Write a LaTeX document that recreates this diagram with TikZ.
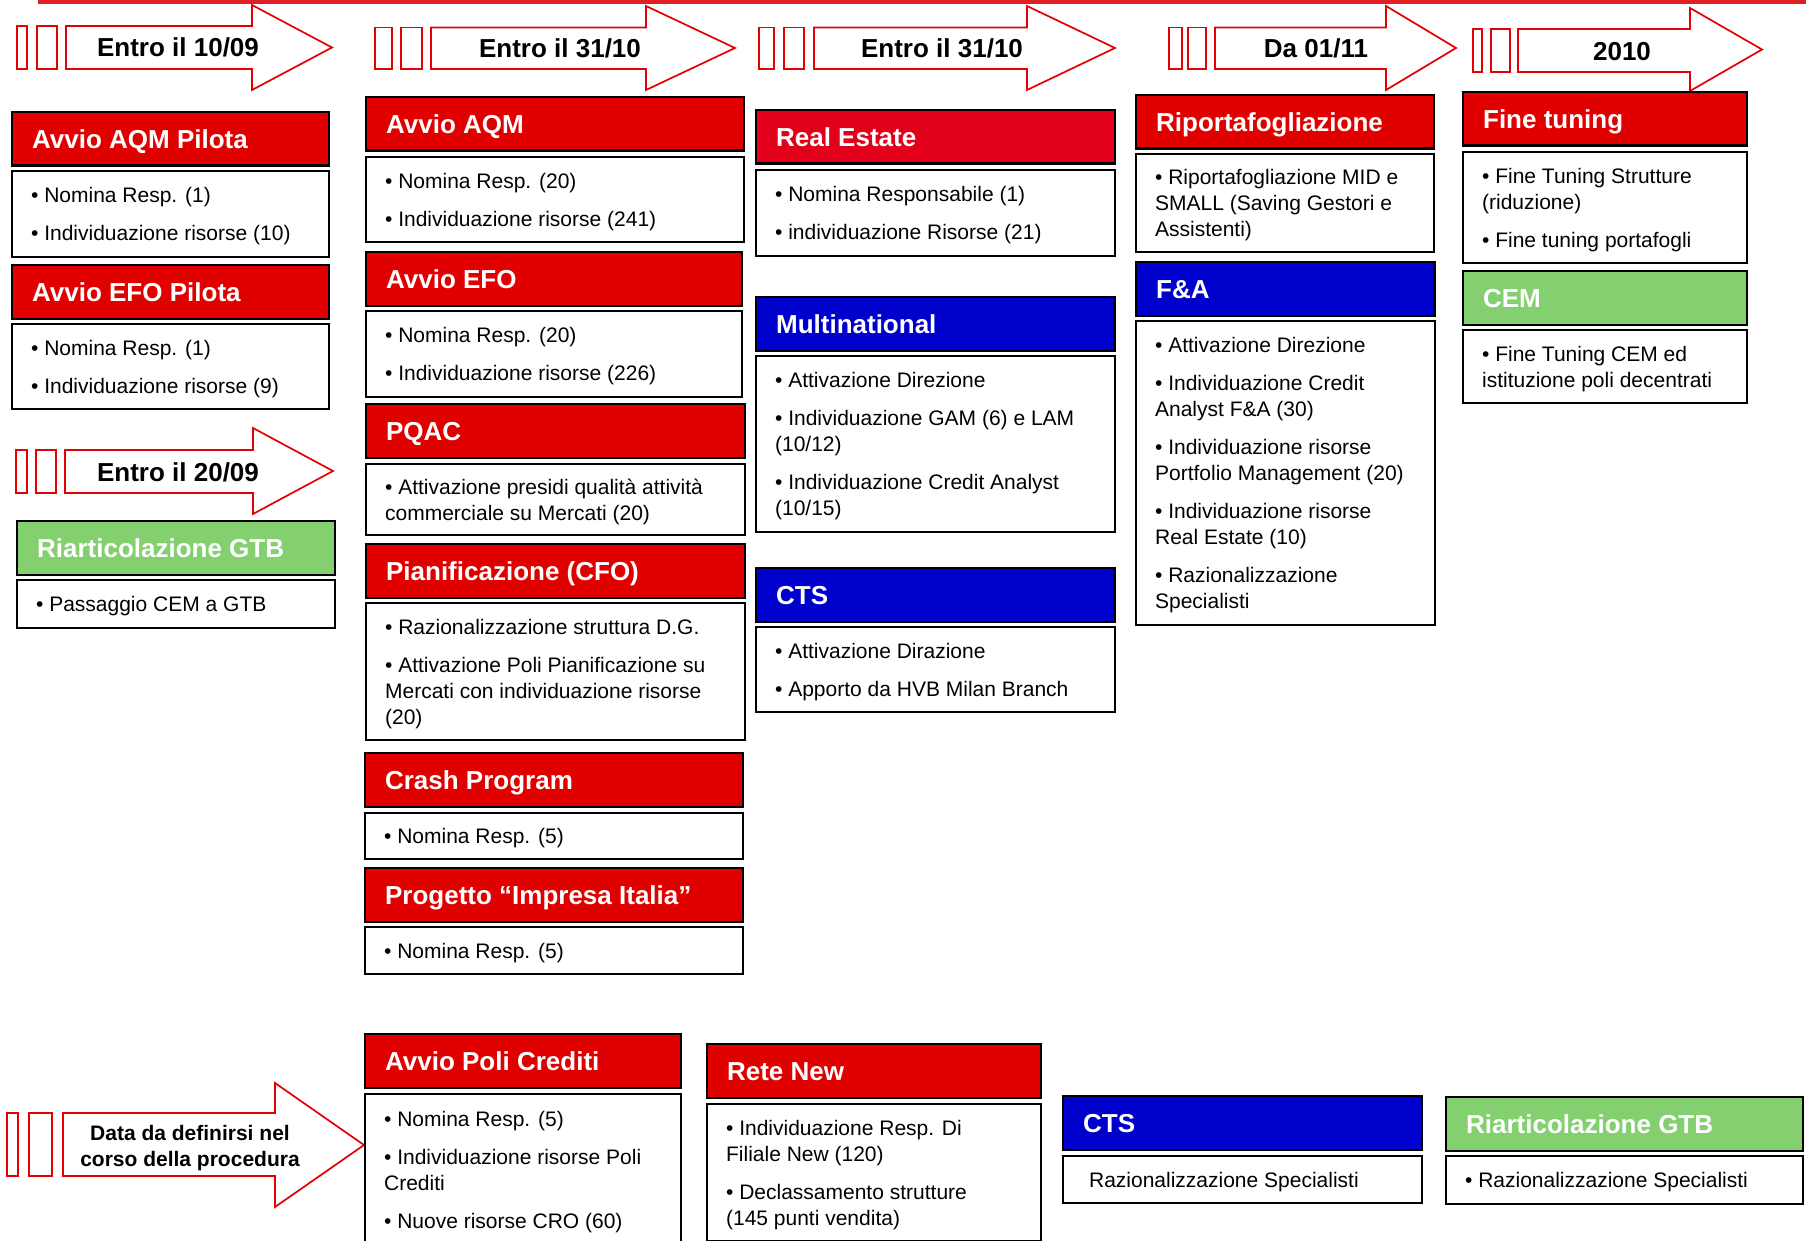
\documentclass[tikz,border=0pt]{standalone}
\usepackage{fontspec}
\setmainfont{Liberation Sans}

\definecolor{hdrred}{RGB}{224,0,0}
\definecolor{estred}{RGB}{226,0,26}
\definecolor{hdrblue}{RGB}{0,0,204}
\definecolor{hdrgreen}{RGB}{132,208,112}
\definecolor{arrred}{RGB}{228,0,0}
\definecolor{linered}{RGB}{224,30,36}

% one text line of a body box: fixed height/depth so lines stack evenly
\newcommand\linestrut{\rule[-5.5pt]{0pt}{26pt}}
\newcommand\bpt[1]{\linestrut\mbox{\textbullet\ #1}}
\newcommand\cpt[1]{\linestrut\mbox{#1}}

\tikzset{
  hdr/.style={draw=black, line width=2.2pt, text=white,
    font=\fontsize{26}{30}\selectfont\bfseries,
    minimum height=53.5, inner xsep=20, inner ysep=0,
    text height=18.6pt, text depth=0pt, anchor=north west},
  bodybox/.style={draw=black, line width=2.2pt, fill=white,
    font=\fontsize{21}{26}\selectfont,
    inner xsep=19, inner ysep=0, anchor=north west},
  arrowline/.style={draw=arrred, line width=1.7pt, line join=miter},
  datelabel/.style={font=\fontsize{26}{30}\selectfont\bfseries,
    text height=18.6pt, text depth=0pt, inner sep=0},
}

% coloured title bar plus bulleted body box
% #1 name, #2 left, #3 width, #4 title top, #5 body top, #6 body bottom,
% #7 title colour, #8 title, #9 body lines
\newcommand\blk[9]{%
  \node[hdr, fill=#7, minimum width=#3] (#1-h) at (#2,#4)
    {\makebox[\dimexpr#3pt-40pt\relax][l]{#8}};
  \node[bodybox, minimum width=#3, minimum height=#6-#5] (#1-b) at (#2,#5)
    {\parbox{\dimexpr#3pt-38pt\relax}{\raggedright#9}};
}

% vertical extents of the next milestone arrow: shaft top/bottom, head top/bottom
\newcommand\arrowrows[4]{\def\arwST{#1}\def\arwSB{#2}\def\arwHT{#3}\def\arwHB{#4}}
% milestone arrow: two small bars, then the block arrow
\newcommand\datearrow[7]{%
  \draw[arrowline] (#1,\arwST) rectangle (#2,\arwSB);
  \draw[arrowline] (#3,\arwST) rectangle (#4,\arwSB);
  \draw[arrowline] (#5,\arwST) -- (#6,\arwST) -- (#6,\arwHT)
    -- (#7,{(\arwHT+\arwHB)/2}) -- (#6,\arwHB) -- (#6,\arwSB) -- (#5,\arwSB) -- cycle;
}

\begin{document}
\begin{tikzpicture}[x=1pt, y=-1pt]
\useasboundingbox (0,0) rectangle (1806,1241);
\fill[white] (0,0) rectangle (1806,1241);

% red rule along the top
\fill[linered] (38,0) rectangle (1806,4.5);

% ---------- milestone arrows ----------
\arrowrows{26}{69}{5}{90}
\datearrow{17}{27}{37}{57}{66}{252}{332}
\node[datelabel] (d1) at (178,47.5) {Entro il 10/09};

\arrowrows{27.5}{69}{6}{90}
\datearrow{375}{392}{401}{422}{431}{646}{735}
\node[datelabel] (d2) at (560,48) {Entro il 31/10};

\datearrow{759}{774}{784}{804}{814}{1027}{1115}
\node[datelabel] (d3) at (942,48) {Entro il 31/10};

\datearrow{1169}{1182}{1188}{1206}{1215}{1386}{1456}
\node[datelabel] (d4) at (1316,48) {Da 01/11};

\arrowrows{29}{72}{8}{91}
\datearrow{1473}{1482}{1491}{1510}{1518}{1690}{1762}
\node[datelabel] (d5) at (1622,51.5) {2010};

\arrowrows{450}{493}{428}{514}
\datearrow{16}{27}{36}{56}{65}{253}{333}
\node[datelabel] (d6) at (178,472) {Entro il 20/09};

\arrowrows{1113}{1176}{1083}{1207}
\datearrow{7}{18}{29}{52}{63}{275}{364}
\node[font=\fontsize{21}{26}\selectfont\bfseries, align=center, inner sep=0]
  (d7) at (190,1148) {Data da definirsi nel\\corso della procedura};

% ---------- column 1 ----------
\blk{aqmp}{11}{317}{111}{170}{256}{hdrred}{Avvio AQM Pilota}
  {\bpt{Nomina Resp. (1)}\\[12pt]\bpt{Individuazione risorse (10)}}
\blk{efop}{11}{317}{264}{323}{408}{hdrred}{Avvio EFO Pilota}
  {\bpt{Nomina Resp. (1)}\\[12pt]\bpt{Individuazione risorse (9)}}
\blk{gtba}{16}{318}{520}{579}{627}{hdrgreen}{Riarticolazione GTB}
  {\bpt{Passaggio CEM a GTB}}

% ---------- column 2 ----------
\blk{aqm}{365}{378}{96}{156}{241}{hdrred}{Avvio AQM}
  {\bpt{Nomina Resp. (20)}\\[12pt]\bpt{Individuazione risorse (241)}}
\blk{efo}{365}{376}{251}{310}{396}{hdrred}{Avvio EFO}
  {\bpt{Nomina Resp. (20)}\\[12pt]\bpt{Individuazione risorse (226)}}
\blk{pqac}{365}{379}{403}{463}{534}{hdrred}{PQAC}
  {\bpt{Attivazione presidi qualità attività}\\\cpt{commerciale su Mercati (20)}}
\blk{cfo}{365}{379}{543}{602}{739}{hdrred}{Pianificazione (CFO)}
  {\bpt{Razionalizzazione struttura D.G.}\\[12pt]\bpt{Attivazione Poli Pianificazione su}\\\cpt{Mercati con individuazione risorse}\\\cpt{(20)}}
\blk{crash}{364}{378}{752}{812}{858}{hdrred}{Crash Program}
  {\bpt{Nomina Resp. (5)}}
\blk{impr}{364}{378}{867}{926}{973}{hdrred}{Progetto “Impresa Italia”}
  {\bpt{Nomina Resp. (5)}}

% ---------- column 3 ----------
\blk{re}{755}{359}{109}{169}{255}{estred}{Real Estate}
  {\bpt{Nomina Responsabile (1)}\\[12pt]\bpt{individuazione Risorse (21)}}
\blk{mn}{755}{359}{296}{355}{531}{hdrblue}{Multinational}
  {\bpt{Attivazione Direzione}\\[12pt]\bpt{Individuazione GAM (6) e LAM}\\\cpt{(10/12)}\\[12pt]\bpt{Individuazione Credit Analyst}\\\cpt{(10/15)}}
\blk{cts}{755}{359}{567}{626}{711}{hdrblue}{CTS}
  {\bpt{Attivazione Dirazione}\\[12pt]\bpt{Apporto da HVB Milan Branch}}

% ---------- column 4 ----------
\blk{rip}{1135}{298}{94}{153}{251}{hdrred}{Riportafogliazione}
  {\bpt{Riportafogliazione MID e}\\\cpt{SMALL (Saving Gestori e}\\\cpt{Assistenti)}}
\blk{fa}{1135}{299}{261}{320}{624}{hdrblue}{F\&A}
  {\bpt{Attivazione Direzione}\\[12pt]\bpt{Individuazione Credit}\\\cpt{Analyst F\&A (30)}\\[12pt]\bpt{Individuazione risorse}\\\cpt{Portfolio Management (20)}\\[12pt]\bpt{Individuazione risorse}\\\cpt{Real Estate (10)}\\[12pt]\bpt{Razionalizzazione}\\\cpt{Specialisti}}

% ---------- column 5 ----------
\blk{ft}{1462}{284}{91}{151}{262}{hdrred}{Fine tuning}
  {\bpt{Fine Tuning Strutture}\\\cpt{(riduzione)}\\[12pt]\bpt{Fine tuning portafogli}}
\blk{cem}{1462}{284}{270}{329}{402}{hdrgreen}{CEM}
  {\bpt{Fine Tuning CEM ed}\\\cpt{istituzione poli decentrati}}

% ---------- bottom row ----------
\blk{poli}{364}{316}{1033}{1093}{1244}{hdrred}{Avvio Poli Crediti}
  {\bpt{Nomina Resp. (5)}\\[12pt]\bpt{Individuazione risorse Poli}\\\cpt{Crediti}\\[12pt]\bpt{Nuove risorse CRO (60)}}
\blk{rete}{706}{334}{1043}{1103}{1240}{hdrred}{Rete New}
  {\bpt{Individuazione Resp. Di}\\\cpt{Filiale New (120)}\\[12pt]\bpt{Declassamento strutture}\\\cpt{(145 punti vendita)}}
\blk{ctsb}{1062}{359}{1095}{1155}{1202}{hdrblue}{CTS}
  {\cpt{\hspace*{7pt}Razionalizzazione Specialisti}}
\blk{gtbb}{1445}{357}{1096}{1155}{1203}{hdrgreen}{Riarticolazione GTB}
  {\bpt{Razionalizzazione Specialisti}}
\end{tikzpicture}
\end{document}
